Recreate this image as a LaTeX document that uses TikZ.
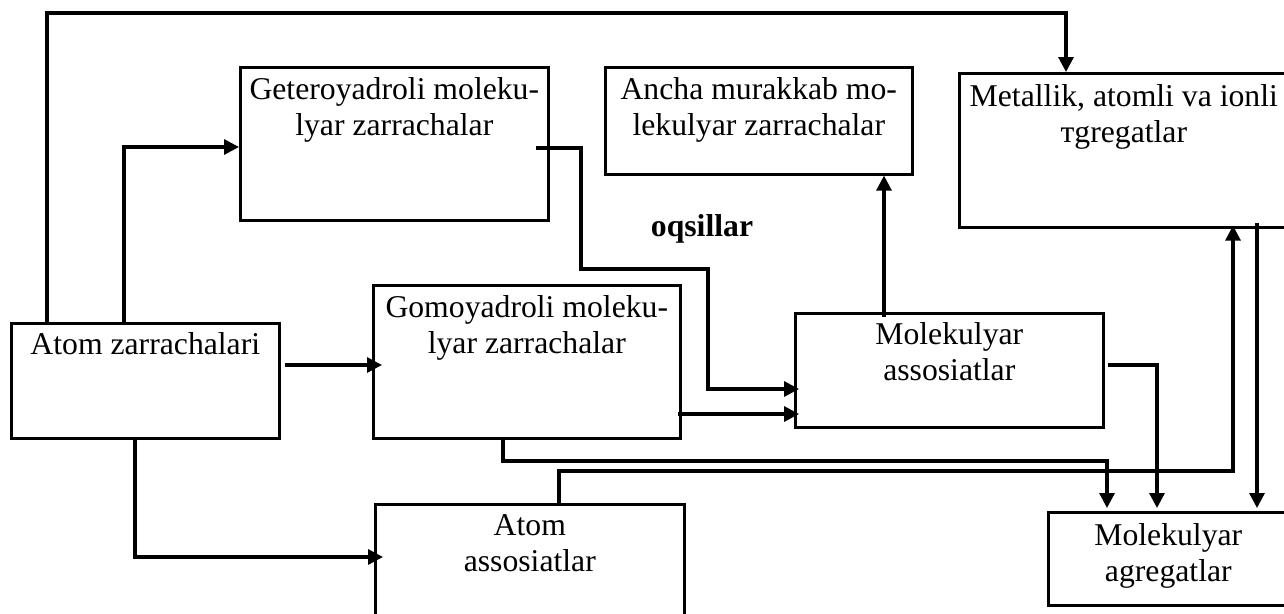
\documentclass[tikz,border=0pt]{standalone}
\usepackage{fontspec}
\setmainfont{Liberation Serif}
\usetikzlibrary{arrows.meta,calc}

\tikzset{
  box/.style={draw, line width=2.6pt, rectangle, inner sep=0pt, anchor=north west},
  conn/.style={line width=3.2pt},
  arr/.style={conn, -{Triangle[length=15pt,width=15pt]}},
  txt/.style={align=center, inner sep=0pt, anchor=north,
              font=\fontsize{31.7}{36.5}\selectfont},
}

\begin{document}
\begin{tikzpicture}[x=1pt,y=-1pt]
\useasboundingbox (0,0) rectangle (1284,613);
\clip (0,0) rectangle (1284,613);

% boxes
\node[box, minimum width=268pt, minimum height=115pt] (atomz)  at (10,322)  {};
\node[box, minimum width=308pt, minimum height=153pt] (getero) at (239,66)  {};
\node[box, minimum width=307pt, minimum height=153pt] (gomo)   at (372,284) {};
\node[box, minimum width=307pt, minimum height=107pt] (ancha)  at (604,66)  {};
\node[box, minimum width=329pt, minimum height=154pt] (metal)  at (958,72)  {};
\node[box, minimum width=308pt, minimum height=114pt] (molas)  at (794,312) {};
\node[box, minimum width=240pt, minimum height=93pt]  (molag)  at (1047,511) {};
\node[box, minimum width=309pt, minimum height=130pt] (atomas) at (374,503) {};

% box texts
\node[txt] (atomz-t)  at ($(atomz.north)+(0,10)$)  {Atom zarrachalari};
\node[txt] (getero-t) at ($(getero.north)+(0,11)$) {Geteroyadroli moleku-\\lyar zarrachalar};
\node[txt] (gomo-t)   at ($(gomo.north)+(0,11)$)   {Gomoyadroli moleku-\\lyar zarrachalar};
\node[txt] (ancha-t)  at ($(ancha.north)+(0,11)$)  {Ancha murakkab mo-\\lekulyar zarrachalar};
\node[txt] (metal-t)  at ($(metal.north)+(0,12)$)  {Metallik, atomli va ionli\\тgregatlar};
\node[txt] (molas-t)  at ($(molas.north)+(0,10)$)  {Molekulyar\\assosiatlar};
\node[txt] (molag-t)  at ($(molag.north)+(0,12)$)  {Molekulyar\\agregatlar};
\node[txt] (atomas-t) at ($(atomas.north)+(0,11)$) {Atom\\assosiatlar};

\node[inner sep=0pt, anchor=base, font=\fontsize{31.7}{36.5}\selectfont\bfseries]
  (oqs) at (702,236) {oqsillar};

% connectors
\draw[arr] (atomz.north -| 47,0) -- (47,13) -| (metal.north -| 1066,0);
\draw[arr] (atomz.north -| 124,0) |- (getero.west |- 0,147);
\draw[arr] ($(atomz.east |- 0,365)+(4,0)$) -- ($(gomo.west |- 0,365)+(10,0)$);
\draw[arr] (atomz.south -| 135,0) |- ($(atomas.west |- 0,557)+(9,0)$);
\draw[arr] ($(gomo.east |- 0,414)+(-4,0)$) -- ($(molas.west |- 0,414)+(5,0)$);
\draw[arr] ($(getero.east |- 0,148)+(-14,0)$) -- (581,148) -- (581,269)
           -- (708,269) -- (708,389) -- ($(molas.west |- 0,389)+(5,0)$);
\draw[arr] ($(molas.north -| 884,0)+(0,5)$) -- (ancha.south -| 884,0);
\draw[arr] ($(molas.east |- 0,365)+(3,0)$) -| ($(molag.north -| 1157,0)+(0,-3)$);
\draw[arr] (gomo.south -| 503,0) |- (1107,461) -- ($(molag.north -| 1107,0)+(0,-3)$);
\draw[arr] (atomas.north -| 559,0) |- (1233,471) -- ($(metal.south -| 1233,0)+(0,-3)$);
\draw[arr] ($(metal.south -| 1257,0)+(0,-6)$) -- ($(molag.north -| 1257,0)+(0,-3)$);
\end{tikzpicture}
\end{document}
